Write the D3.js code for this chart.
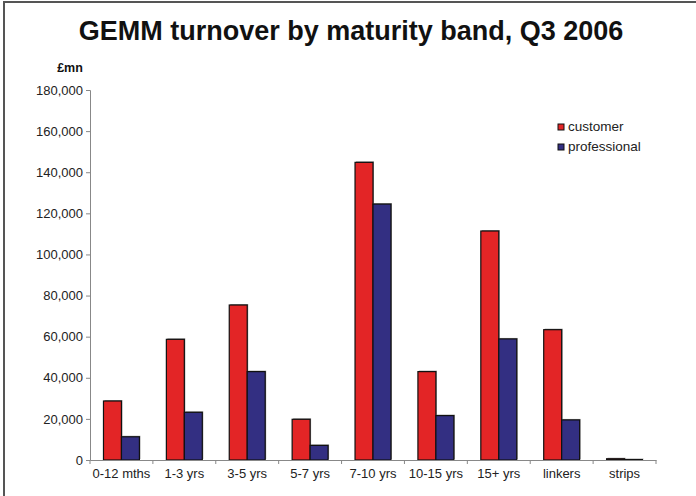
<!DOCTYPE html>
<html><head><meta charset="utf-8">
<script src="https://cdn.jsdelivr.net/npm/d3@7"></script>
<style>body{margin:0;background:#fff}svg{display:block}</style>
</head><body>
<script>
const categories = ["0-12 mths","1-3 yrs","3-5 yrs","5-7 yrs","7-10 yrs","10-15 yrs","15+ yrs","linkers","strips"];
const customer = [28700, 58700, 75400, 19800, 144800, 43000, 111400, 63400, 600];
const professional = [11300, 23200, 43000, 7100, 124500, 21600, 58900, 19500, 200];
const seriesNames = ["customer","professional"];
const yTicks = [0,20000,40000,60000,80000,100000,120000,140000,160000,180000];
const colors = ["#E32526","#332F82"];

const W=696,H=496;
const svg=d3.select("body").append("svg").attr("width",W).attr("height",H);
svg.append("rect").attr("x",4).attr("y",2).attr("width",720).attr("height",520)
  .attr("fill","none").attr("stroke","#555").attr("stroke-width",2);

const font="Liberation Sans, Arial, sans-serif";
svg.append("text").attr("x",351).attr("y",40).attr("text-anchor","middle")
  .attr("font-family",font).attr("font-weight","bold").attr("font-size",27)
  .attr("fill","#111").text("GEMM turnover by maturity band, Q3 2006");
svg.append("text").attr("x",70).attr("y",72).attr("text-anchor","middle")
  .attr("font-family",font).attr("font-weight","bold").attr("font-size",12.5)
  .attr("fill","#111").text("£mn");

const x0=d3.scaleBand().domain(categories).range([90,656]).paddingInner(0).paddingOuter(0);
const x1=d3.scaleBand().domain(seriesNames).range([0,x0.bandwidth()]).paddingInner(0).paddingOuter(0.75);
const y=d3.scaleLinear().domain([0,180000]).range([460,90]);

const data=categories.map((c,i)=>({cat:c,vals:[{s:"customer",v:customer[i],c:colors[0]},{s:"professional",v:professional[i],c:colors[1]}]}));
const g=svg.append("g");
const grp=g.selectAll("g").data(data).join("g").attr("transform",d=>`translate(${x0(d.cat)},0)`);
grp.selectAll("rect.sh").data(d=>d.vals).join("rect").attr("class","sh")
  .attr("x",d=>x1(d.s)+1).attr("y",d=>y(d.v)-1).attr("width",x1.bandwidth())
  .attr("height",d=>y(0)-y(d.v)).attr("fill","#999");
grp.selectAll("rect.bar").data(d=>d.vals).join("rect").attr("class","bar")
  .attr("x",d=>x1(d.s)).attr("y",d=>y(d.v)).attr("width",x1.bandwidth())
  .attr("height",d=>y(0)-y(d.v)).attr("fill",d=>d.c).attr("stroke","#111").attr("stroke-width",1.2);

const ya=svg.append("g").attr("transform","translate(90,0)")
  .call(d3.axisLeft(y).tickValues(yTicks).tickSize(4).tickPadding(3).tickFormat(d3.format(",")));
ya.select(".domain").attr("stroke","#888");
ya.selectAll(".tick line").attr("stroke","#888");
ya.selectAll("text").attr("font-family",font).attr("font-size",13).attr("fill","#222");

const xa=svg.append("g").attr("transform","translate(0,460)")
  .call(d3.axisBottom(x0).tickSize(0).tickPadding(7));
xa.select(".domain").attr("stroke","#888");
xa.selectAll("text").attr("font-family",font).attr("font-size",13).attr("fill","#222").attr("dy","0.85em");
xa.selectAll(".bt").data(d3.range(categories.length+1)).join("line").attr("class","bt")
  .attr("x1",i=>i<categories.length?x0(categories[i]):656)
  .attr("x2",i=>i<categories.length?x0(categories[i]):656)
  .attr("y1",0).attr("y2",4).attr("stroke","#888");

const lg=svg.append("g").attr("transform","translate(558,124)");
seriesNames.forEach((s,i)=>{
  lg.append("rect").attr("x",0).attr("y",i*20).attr("width",6).attr("height",6)
    .attr("fill",colors[i]).attr("stroke","#111").attr("stroke-width",1);
  lg.append("text").attr("x",10).attr("y",i*20+7).attr("font-family",font).attr("font-size",13.5)
    .attr("fill","#222").text(s);
});
</script>
</body></html>
